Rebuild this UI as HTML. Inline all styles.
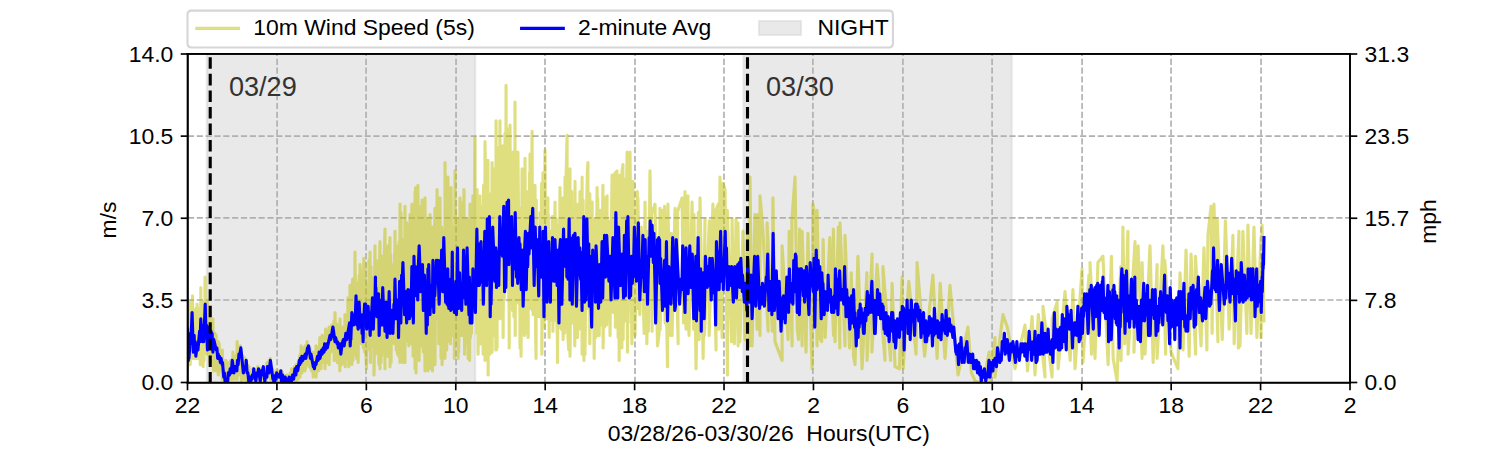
<!DOCTYPE html>
<html><head><meta charset="utf-8"><title>10m Wind Speed</title>
<style>html,body{margin:0;padding:0;background:#fff;font-family:"Liberation Sans",sans-serif;}
svg{display:block;position:absolute;left:0;top:0}
g[id^=text_]>g{stroke:#000;stroke-width:1.0;stroke-linejoin:round}
g[id^=text_]>g[style]{stroke:#333}
svg text{font-family:"Liberation Sans",sans-serif;}</style></head>
<body>
<svg width="1500" height="450" viewBox="0 0 720 216">
 <defs>
  <style type="text/css">*{stroke-linejoin: round; stroke-linecap: butt}</style>
 </defs>
 <g id="figure_1">
  <g id="patch_1">
   <path d="M 0 216 
L 720 216 
L 720 0 
L 0 0 
z
" style="fill: #ffffff"/>
  </g>
  <g id="axes_1">
   <g id="patch_2">
    <path d="M 90 183.6 
L 648 183.6 
L 648 25.9 
L 90 25.9 
z
" style="fill: #ffffff"/>
   </g>
   <g id="patch_3">
    <path d="M 99.3 183.6 
L 228.1 183.6 
L 228.1 25.9 
L 99.3 25.9 
z
" clip-path="url(#p9914ee8cab)" style="fill: #d3d3d3; opacity: 0.5"/>
   </g>
   <g id="patch_4">
    <path d="M 356.9 183.6 
L 485.6 183.6 
L 485.6 25.9 
L 356.9 25.9 
z
" clip-path="url(#p9914ee8cab)" style="fill: #d3d3d3; opacity: 0.5"/>
   </g>
   <g id="line2d_1">
    <path d="M 99.3 183.6 
L 99.3 25.9 
" clip-path="url(#p9914ee8cab)" style="fill: none; stroke: #d3d3d3; stroke-opacity: 0.5; stroke-linecap: square"/>
   </g>
   <g id="line2d_2">
    <path d="M 228.1 183.6 
L 228.1 25.9 
" clip-path="url(#p9914ee8cab)" style="fill: none; stroke: #d3d3d3; stroke-opacity: 0.5; stroke-linecap: square"/>
   </g>
   <g id="line2d_3">
    <path d="M 356.9 183.6 
L 356.9 25.9 
" clip-path="url(#p9914ee8cab)" style="fill: none; stroke: #d3d3d3; stroke-opacity: 0.5; stroke-linecap: square"/>
   </g>
   <g id="line2d_4">
    <path d="M 485.6 183.6 
L 485.6 25.9 
" clip-path="url(#p9914ee8cab)" style="fill: none; stroke: #d3d3d3; stroke-opacity: 0.5; stroke-linecap: square"/>
   </g>
   <g id="line2d_5">
    <path d="M 133 183.8 
L 133 25.9 
" clip-path="url(#p9914ee8cab)" style="fill: none; stroke-dasharray: 2.96,1.28; stroke-dashoffset: 0; stroke: #b0b0b0; stroke-width: 0.8"/>
   </g>
   <g id="line2d_6">
    <path d="M 175.7 183.8 
L 175.7 25.9 
" clip-path="url(#p9914ee8cab)" style="fill: none; stroke-dasharray: 2.96,1.28; stroke-dashoffset: 0; stroke: #b0b0b0; stroke-width: 0.8"/>
   </g>
   <g id="line2d_7">
    <path d="M 218.9 183.8 
L 218.9 25.9 
" clip-path="url(#p9914ee8cab)" style="fill: none; stroke-dasharray: 2.96,1.28; stroke-dashoffset: 0; stroke: #b0b0b0; stroke-width: 0.8"/>
   </g>
   <g id="line2d_8">
    <path d="M 261.6 183.8 
L 261.6 25.9 
" clip-path="url(#p9914ee8cab)" style="fill: none; stroke-dasharray: 2.96,1.28; stroke-dashoffset: 0; stroke: #b0b0b0; stroke-width: 0.8"/>
   </g>
   <g id="line2d_9">
    <path d="M 304.8 183.8 
L 304.8 25.9 
" clip-path="url(#p9914ee8cab)" style="fill: none; stroke-dasharray: 2.96,1.28; stroke-dashoffset: 0; stroke: #b0b0b0; stroke-width: 0.8"/>
   </g>
   <g id="line2d_10">
    <path d="M 347.5 183.8 
L 347.5 25.9 
" clip-path="url(#p9914ee8cab)" style="fill: none; stroke-dasharray: 2.96,1.28; stroke-dashoffset: 0; stroke: #b0b0b0; stroke-width: 0.8"/>
   </g>
   <g id="line2d_11">
    <path d="M 390.2 183.8 
L 390.2 25.9 
" clip-path="url(#p9914ee8cab)" style="fill: none; stroke-dasharray: 2.96,1.28; stroke-dashoffset: 0; stroke: #b0b0b0; stroke-width: 0.8"/>
   </g>
   <g id="line2d_12">
    <path d="M 433.4 183.8 
L 433.4 25.9 
" clip-path="url(#p9914ee8cab)" style="fill: none; stroke-dasharray: 2.96,1.28; stroke-dashoffset: 0; stroke: #b0b0b0; stroke-width: 0.8"/>
   </g>
   <g id="line2d_13">
    <path d="M 476.2 183.8 
L 476.2 25.9 
" clip-path="url(#p9914ee8cab)" style="fill: none; stroke-dasharray: 2.96,1.28; stroke-dashoffset: 0; stroke: #b0b0b0; stroke-width: 0.8"/>
   </g>
   <g id="line2d_14">
    <path d="M 519.4 183.8 
L 519.4 25.9 
" clip-path="url(#p9914ee8cab)" style="fill: none; stroke-dasharray: 2.96,1.28; stroke-dashoffset: 0; stroke: #b0b0b0; stroke-width: 0.8"/>
   </g>
   <g id="line2d_15">
    <path d="M 562.1 183.8 
L 562.1 25.9 
" clip-path="url(#p9914ee8cab)" style="fill: none; stroke-dasharray: 2.96,1.28; stroke-dashoffset: 0; stroke: #b0b0b0; stroke-width: 0.8"/>
   </g>
   <g id="line2d_16">
    <path d="M 605.3 183.8 
L 605.3 25.9 
" clip-path="url(#p9914ee8cab)" style="fill: none; stroke-dasharray: 2.96,1.28; stroke-dashoffset: 0; stroke: #b0b0b0; stroke-width: 0.8"/>
   </g>
   <g id="line2d_17">
    <path d="M 90.2 144 
L 648 144 
" clip-path="url(#p9914ee8cab)" style="fill: none; stroke-dasharray: 2.96,1.28; stroke-dashoffset: 0; stroke: #b0b0b0; stroke-width: 0.8"/>
   </g>
   <g id="line2d_18">
    <path d="M 90.2 104.6 
L 648 104.6 
" clip-path="url(#p9914ee8cab)" style="fill: none; stroke-dasharray: 2.96,1.28; stroke-dashoffset: 0; stroke: #b0b0b0; stroke-width: 0.8"/>
   </g>
   <g id="line2d_19">
    <path d="M 90.2 65.3 
L 648 65.3 
" clip-path="url(#p9914ee8cab)" style="fill: none; stroke-dasharray: 2.96,1.28; stroke-dashoffset: 0; stroke: #b0b0b0; stroke-width: 0.8"/>
   </g>
   <g id="matplotlib.axis_1">
    <g id="xtick_1">
     <g id="line2d_20">
      <defs>
       <path id="md058f797e7" d="M 0 0 
L 0 3.5 
" style="stroke: #000000; stroke-width: 0.8"/>
      </defs>
      <g>
       <use href="#md058f797e7" x="90" y="183.84" style="stroke: #000000; stroke-width: 0.8"/>
      </g>
     </g>
     <g id="text_1">
      <text x="90" y="198.4" font-size="11" text-anchor="middle" fill="#000000">22</text>
     </g>
    </g>
    <g id="xtick_2">
     <g id="line2d_21">
      <g>
       <use href="#md058f797e7" x="132.923077" y="183.84" style="stroke: #000000; stroke-width: 0.8"/>
      </g>
     </g>
     <g id="text_2">
      <text x="132.9" y="198.4" font-size="11" text-anchor="middle" fill="#000000">2</text>
     </g>
    </g>
    <g id="xtick_3">
     <g id="line2d_22">
      <g>
       <use href="#md058f797e7" x="175.846154" y="183.84" style="stroke: #000000; stroke-width: 0.8"/>
      </g>
     </g>
     <g id="text_3">
      <text x="175.8" y="198.4" font-size="11" text-anchor="middle" fill="#000000">6</text>
     </g>
    </g>
    <g id="xtick_4">
     <g id="line2d_23">
      <g>
       <use href="#md058f797e7" x="218.769231" y="183.84" style="stroke: #000000; stroke-width: 0.8"/>
      </g>
     </g>
     <g id="text_4">
      <text x="218.8" y="198.4" font-size="11" text-anchor="middle" fill="#000000">10</text>
     </g>
    </g>
    <g id="xtick_5">
     <g id="line2d_24">
      <g>
       <use href="#md058f797e7" x="261.692308" y="183.84" style="stroke: #000000; stroke-width: 0.8"/>
      </g>
     </g>
     <g id="text_5">
      <text x="261.7" y="198.4" font-size="11" text-anchor="middle" fill="#000000">14</text>
     </g>
    </g>
    <g id="xtick_6">
     <g id="line2d_25">
      <g>
       <use href="#md058f797e7" x="304.615385" y="183.84" style="stroke: #000000; stroke-width: 0.8"/>
      </g>
     </g>
     <g id="text_6">
      <text x="304.6" y="198.4" font-size="11" text-anchor="middle" fill="#000000">18</text>
     </g>
    </g>
    <g id="xtick_7">
     <g id="line2d_26">
      <g>
       <use href="#md058f797e7" x="347.538462" y="183.84" style="stroke: #000000; stroke-width: 0.8"/>
      </g>
     </g>
     <g id="text_7">
      <text x="347.5" y="198.4" font-size="11" text-anchor="middle" fill="#000000">22</text>
     </g>
    </g>
    <g id="xtick_8">
     <g id="line2d_27">
      <g>
       <use href="#md058f797e7" x="390.461538" y="183.84" style="stroke: #000000; stroke-width: 0.8"/>
      </g>
     </g>
     <g id="text_8">
      <text x="390.5" y="198.4" font-size="11" text-anchor="middle" fill="#000000">2</text>
     </g>
    </g>
    <g id="xtick_9">
     <g id="line2d_28">
      <g>
       <use href="#md058f797e7" x="433.384615" y="183.84" style="stroke: #000000; stroke-width: 0.8"/>
      </g>
     </g>
     <g id="text_9">
      <text x="433.4" y="198.4" font-size="11" text-anchor="middle" fill="#000000">6</text>
     </g>
    </g>
    <g id="xtick_10">
     <g id="line2d_29">
      <g>
       <use href="#md058f797e7" x="476.307692" y="183.84" style="stroke: #000000; stroke-width: 0.8"/>
      </g>
     </g>
     <g id="text_10">
      <text x="476.3" y="198.4" font-size="11" text-anchor="middle" fill="#000000">10</text>
     </g>
    </g>
    <g id="xtick_11">
     <g id="line2d_30">
      <g>
       <use href="#md058f797e7" x="519.230769" y="183.84" style="stroke: #000000; stroke-width: 0.8"/>
      </g>
     </g>
     <g id="text_11">
      <text x="519.2" y="198.4" font-size="11" text-anchor="middle" fill="#000000">14</text>
     </g>
    </g>
    <g id="xtick_12">
     <g id="line2d_31">
      <g>
       <use href="#md058f797e7" x="562.153846" y="183.84" style="stroke: #000000; stroke-width: 0.8"/>
      </g>
     </g>
     <g id="text_12">
      <text x="562.2" y="198.4" font-size="11" text-anchor="middle" fill="#000000">18</text>
     </g>
    </g>
    <g id="xtick_13">
     <g id="line2d_32">
      <g>
       <use href="#md058f797e7" x="605.076923" y="183.84" style="stroke: #000000; stroke-width: 0.8"/>
      </g>
     </g>
     <g id="text_13">
      <text x="605.1" y="198.4" font-size="11" text-anchor="middle" fill="#000000">22</text>
     </g>
    </g>
    <g id="xtick_14">
     <g id="line2d_33">
      <g>
       <use href="#md058f797e7" x="648" y="183.84" style="stroke: #000000; stroke-width: 0.8"/>
      </g>
     </g>
     <g id="text_14">
      <text x="648" y="198.4" font-size="11" text-anchor="middle" fill="#000000">2</text>
     </g>
    </g>
    <g id="text_15">
     <text x="369" y="211.6" font-size="11" text-anchor="middle" fill="#000000" xml:space="preserve">03/28/26-03/30/26  Hours(UTC)</text>
    </g>
   </g>
   <g id="matplotlib.axis_2">
    <g id="ytick_1">
     <g id="line2d_34">
      <defs>
       <path id="m3d2965ecab" d="M 0 0 
L -3.5 0 
" style="stroke: #000000; stroke-width: 0.8"/>
      </defs>
      <g>
       <use href="#m3d2965ecab" x="90.24" y="183.6" style="stroke: #000000; stroke-width: 0.8"/>
      </g>
     </g>
     <g id="text_16">
      <text x="83.2" y="187.4" font-size="11" text-anchor="end" fill="#000000">0.0</text>
     </g>
    </g>
    <g id="ytick_2">
     <g id="line2d_35">
      <g>
       <use href="#m3d2965ecab" x="90.24" y="144.18" style="stroke: #000000; stroke-width: 0.8"/>
      </g>
     </g>
     <g id="text_17">
      <text x="83.2" y="148" font-size="11" text-anchor="end" fill="#000000">3.5</text>
     </g>
    </g>
    <g id="ytick_3">
     <g id="line2d_36">
      <g>
       <use href="#m3d2965ecab" x="90.24" y="104.76" style="stroke: #000000; stroke-width: 0.8"/>
      </g>
     </g>
     <g id="text_18">
      <text x="83.2" y="108.6" font-size="11" text-anchor="end" fill="#000000">7.0</text>
     </g>
    </g>
    <g id="ytick_4">
     <g id="line2d_37">
      <g>
       <use href="#m3d2965ecab" x="90.24" y="65.34" style="stroke: #000000; stroke-width: 0.8"/>
      </g>
     </g>
     <g id="text_19">
      <text x="83.2" y="69.1" font-size="11" text-anchor="end" fill="#000000">10.5</text>
     </g>
    </g>
    <g id="ytick_5">
     <g id="line2d_38">
      <g>
       <use href="#m3d2965ecab" x="90.24" y="25.92" style="stroke: #000000; stroke-width: 0.8"/>
      </g>
     </g>
     <g id="text_20">
      <text x="83.2" y="29.7" font-size="11" text-anchor="end" fill="#000000">14.0</text>
     </g>
    </g>
    <g id="text_21">
     <text transform="translate(55.8 105.6) rotate(-90)" font-size="11" text-anchor="middle" fill="#000000">m/s</text>
    </g>
   </g>
   <g id="line2d_39">
    <path d="M 90 147 L 90 177 90.2 148 90.4 174 90.6 156 90.7 173 90.9 155 90.9 170 91 148 91.2 169 91.2 145 91.3 175 91.5 156 91.7 170 91.9 146 92 172 92.1 151 92.4 169 92.4 142 92.7 171 92.8 157 92.8 172 92.9 154 93.2 170 93.4 149 93.5 172 93.6 156 93.7 171 93.9 154 94 171 94.1 148 94.3 172 94.6 146 94.7 172 94.8 152 94.9 171 95.2 148 95.3 171 95.4 156 95.8 172 95.8 156 96.1 175 96.3 153 96.3 166 96.4 138 96.4 175 96.5 154 96.7 173 96.7 152 96.9 167 97 149 97.1 169 97.3 146 97.4 168 97.4 145 97.5 176 97.6 155 97.8 169 97.8 153 97.9 173 98.1 154 98.3 169 98.4 133 98.6 168 98.7 147 98.7 163 98.9 147 99 164 99.1 149 99.5 170 99.6 145 99.7 168 99.7 150 99.8 168 100.1 154 100.4 170 100.5 155 100.8 174 100.8 150 101.1 174 101.3 154 101.5 168 101.9 155 102.1 171 102.2 153 102.5 178 102.6 162 102.8 175 102.8 161 103.1 170 103.2 160 103.6 176 103.7 161 103.8 178 103.9 164 104.4 176 104.5 167 104.8 180 104.8 164 105.2 174 105.2 165 105.5 178 105.5 168 106 178 106.2 170 106.4 178 106.4 170 106.7 182 106.7 168 106.8 181 107 173 107.1 182 107.4 174 107.8 181 107.8 173 108.1 183 108.3 176 108.5 183 108.5 173 108.7 183 108.9 178 109 183 109.4 177 109.5 184 109.6 175 109.9 181 109.9 174 110.2 181 110.3 174 110.6 182 110.7 173 110.9 180 111 174 111.3 182 111.6 172 111.7 182 111.8 169 112.2 181 112.1 174 112.4 182 112.8 171 113 181 113.1 172 113.4 182 113.6 170 113.8 182 113.8 164 114.1 167 114.3 176 114.6 180 114.9 169 115.1 176 115.2 168 115.4 178 115.4 166 115.8 178 115.6 168 115.9 184 115.9 172 116.3 180 116.6 171 116.8 180 116.9 174 117 182 117.1 173 117.5 180 117.6 172 118.3 183 118.8 175 119.3 183 119.5 176 119.7 183 119.8 179 120.1 184 120.5 179 120.7 183 120.9 178 121.3 182 121.4 177 121.6 183 121.8 178 122.2 183 122.6 178 122.9 183 123.2 177 123.5 182 123.8 176 124.1 182 124.5 177 124.8 183 125.4 177 125.8 182 125.9 177 126.1 181 126.3 177 126.6 182 126.7 176 127.1 182 127.4 176 127.7 184 127.9 176 128 182 128.1 174 128.3 179 128.4 175 128.8 179 129.1 173 129.7 182 129.7 172 129.9 181 129.9 174 130.2 182 130.2 176 130.5 183 130.9 177 131.1 182 131.5 183 132.1 179 132.2 182 132.6 178 132.9 182 133 179 133.2 182 133.6 178 134 182 134.2 180 134.5 183 134.7 179 135.1 183 135.2 178 135.3 183 135.6 179 136.1 183 136.5 181 137.2 183 137.3 180 137.7 184 137.9 180 138.4 183 138.8 180 139 183 139.4 179 139.6 183 140 177 140.2 183 140.6 178 140.9 182 141.4 176 141.6 181 142 177 142.1 184 142.2 175 142.7 180 142.8 175 143.1 182 143.3 173 143.7 179 143.8 171 144 181 144.1 170 144.4 178 144.5 166 144.9 179 145.1 169 145.3 178 145.6 168 145.9 176 145.9 167 146.4 178 146.5 166 146.6 177 147.1 167 147.3 172 147.4 164 147.5 175 148 167 148.4 176 148.8 167 149.2 177 149.3 169 149.6 178 150.2 169 150.3 181 150.5 172 150.7 179 151 170 151.3 179 151.7 166 151.7 181 152.2 167 152.1 178 152.5 167 152.9 178 153 168 153.1 176 153.5 162 153.7 175 153.9 165 154.1 177 154.4 163 154.7 171 154.6 161 154.9 174 155 162 155.4 174 155.6 164 155.9 171 155.9 161 156 177 156.3 158 156.6 172 157 162 157.2 174 157.4 159 157.8 171 157.9 157 158 175 158.3 158 158.8 169 159.2 156 159.4 168 159.8 156 160.2 165 160.3 154 160.4 173 160.8 150 161.1 170 161.2 155 161.7 172 161.7 157 161.9 174 162.3 156 162.4 174 162.9 157 163.1 178 163.2 153 163.7 173 164.1 175 164.3 157 164.5 173 164.8 162 164.9 171 165.1 158 165.4 174 165.6 151 165.7 176 165.8 154 166.1 171 166.4 153 166.9 172 167 143 167.4 176 167.6 150 167.8 168 168 137 168.7 171 168.9 138 168.9 175 169 138 169.3 134 169.4 173 169.5 144 169.8 170 170 134 170.2 165 170.4 121 170.7 164 170.8 137 171.1 172 171.6 136 171.9 174 172.4 133 172.6 157 172.5 132 172.8 163 172.8 127 173.2 134 173.5 165 173.8 134 174 164 174.2 138 174.4 167 174.6 124 175 169 175.2 126 175.5 166 175.9 177 176.2 140 176.4 168 176.7 136 177 162 177.1 125 177.3 162 177.6 121 177.8 174 178.1 128 178.3 166 178.4 137 178.7 165 178.9 133 179.2 163 179.3 134 179.5 180 179.5 134 179.6 178 179.9 127 180 118 180.1 170 180.2 134 180.3 163 180.6 125 180.8 169 180.9 126 181.1 163 181.1 131 181.6 170 181.7 127 181.8 174 182 175 182.2 125 182.4 116 182.4 177 182.6 131 182.9 174 183 138 183.2 171 183.4 123 183.7 169 183.7 130 183.9 166 184.1 126 184.4 162 184.5 120 184.8 110 184.8 177 185 119 185.3 158 185.4 120 185.5 169 185.6 134 186 171 186.1 118 186.4 163 186.7 128 186.8 162 186.9 122 187.2 114 187.2 176 187.4 122 187.7 174 188 138 188.2 164 188.3 130 188.6 163 188.6 127 188.8 164 189 135 189.3 122 189.3 165 189.6 111 189.9 161 190.1 129 190.2 168 190.4 132 190.6 167 190.8 170 191 118 191.4 171 191.6 116 191.9 156 192 98 192 174 192.2 114 192.2 167 192.4 109 192.5 102 192.7 164 193.1 115 193.2 161 193.3 123 193.5 174 193.6 124 193.8 163 193.9 125 194.1 162 194.3 124 194.4 99 194.4 174 194.5 121 194.7 160 195 112 195.1 157 195.2 107 195.4 108 195.4 162 195.6 114 195.9 164 196.1 122 196.2 166 196.4 117 196.6 164 196.8 103 197.2 158 197.4 110 197.6 165 197.7 98 197.8 165 197.9 116 198.3 171 198.6 123 198.8 170 198.8 103 199.1 156 199.2 92 199.2 177 199.5 90 199.7 179 199.8 109 199.9 167 200 109 200.2 168 200.5 105 200.6 89 200.8 150 201 105 201.2 173 201.4 114 201.5 161 201.7 109 202 159 202 99 202.3 166 202.6 96 202.6 160 202.9 121 203.2 169 203.3 121 203.8 155 204 178 204 95 204.5 169 204.4 112 204.6 166 204.7 117 205 166 205.1 105 205.2 169 205.4 178 205.5 121 206 128 206.2 177 206.4 103 206.8 169 206.9 115 207.1 159 207.4 171 207.6 178 207.8 109 208.4 159 208.5 115 208.8 100 208.8 175 209.2 110 209.4 153 209.8 91 209.9 151 210.5 103 210.6 165 210.8 124 211.1 161 211.2 95 211.7 172 212 109 212.2 175 212.4 111 212.5 162 212.6 113 212.7 172 213.2 114 213.6 172 213.6 78 213.9 159 214.2 94 214.4 168 214.7 94 214.9 154 215 85 215.4 158 215.4 106 215.9 164 216.2 117 216.2 165 216.5 90 217 157 217.1 120 217.4 161 217.9 109 218.1 172 218 110 218.3 154 218.4 82 218.5 158 218.6 102 219 162 219.3 118 219.3 164 219.6 105 219.9 172 220.1 127 220.2 169 220.6 119 220.8 158 220.8 95 221.6 161 221.7 107 221.9 161 222 109 222.4 97 222.5 147 222.7 91 223 170 223 108 223.4 165 223.5 105 223.9 149 224.3 111 224.7 172 225 105 225.4 173 225.6 98 225.8 162 225.9 109 226.3 160 226.7 118 227 149 227 94 227.6 140 227.7 114 228 66 228 149 228.5 106 228.7 97 228.9 154 229 91 229 160 229.2 115 229.5 170 229.8 108 230.1 148 230.4 94 230.5 165 230.7 106 230.9 152 231.1 101 231.3 165 231.6 99 231.9 170 232 104 232.1 165 232.1 89 232.3 141 232.4 90 232.7 149 232.8 68 232.8 173 232.9 73 233.1 143 233.4 96 233.5 157 233.7 98 234 155 234 80 234.2 153 234.2 77 234.3 180 234.5 98 234.8 146 234.9 93 235.1 164 235.1 107 235.2 170 235.7 111 235.8 154 236.2 78 236.2 169 236.6 98 236.7 159 236.7 92 237 161 237.1 81 237.5 154 237.6 87 238 168 238.1 58 238.3 168 238.4 88 238.6 167 238.7 71 238.8 143 239.1 79 239.3 148 239.5 99 239.8 147 239.8 88 240 58 240 153 240.3 88 240.3 145 240.5 78 240.6 148 240.8 86 241.2 131 241.4 70 241.5 162 241.8 86 242 144 242.1 78 242.2 134 242.4 64 242.5 133 242.6 82 242.8 132 242.9 41 243 136 243.2 62 243.5 135 243.8 62 244.2 145 244.3 76 244.4 167 244.5 90 244.7 140 244.8 60 245.3 146 245.4 78 245.7 146 245.9 94 246 149 246.3 73 246.3 147 246.6 81 246.7 152 246.8 81 247.1 140 247.2 49 247.3 161 247.5 86 247.5 146 247.7 78 247.8 145 247.9 93 248.3 145 248.6 73 249.3 146 249.4 102 249.6 167 249.9 100 250.1 171 250.6 81 251.2 149 251.3 93 251.7 161 252 76 252.2 160 252.3 101 252.5 150 252.7 96 252.9 143 253 92 253.5 162 253.7 92 253.9 138 254.2 83 254.3 148 254.4 74 254.7 131 254.9 90 255 136 255.4 63 255.6 149 255.8 98 255.9 151 256.4 102 256.6 143 256.8 89 257.1 160 257.3 172 257.4 96 257.6 146 257.8 109 258.1 150 258.7 152 259 109 259.2 142 259.2 102 259.7 151 259.9 95 260 88 260.1 170 260.6 83 260.9 149 261.1 157 261.6 72 262 151 262 100 262.6 153 263 95 263 150 263.2 103 263.6 162 263.9 114 264 154 264.3 111 265 145 265.1 104 265.4 159 265.8 106 265.9 142 266.4 97 266.8 154 267 105 267.4 160 267.3 109 267.6 174 268 108 268.3 157 268.8 90 269.4 158 269.8 109 270.3 163 270.3 95 270.9 160 271.2 85 271.5 150 271.6 91 271.8 82 272.2 65 272.2 153 272.3 101 272.3 156 273 168 273.1 97 273.6 81 273.6 171 274.4 92 275 155 275.3 108 275.9 166 276 87 276.1 156 276.5 162 277.2 109 277.2 162 277.4 98 277.9 158 278.4 92 278.6 150 278.8 99 279.2 158 279.4 85 279.4 170 279.9 96 280.3 173 280.3 104 280.8 170 281.6 99 281.9 83 282.2 78 282.3 148 283.1 93 283.1 165 284.2 97 284.6 150 284.7 106 285.2 172 285.8 105 285.9 162 286.6 90 286.6 161 286.9 95 287.6 161 288.2 101 288.6 156 289.4 89 289.5 167 289.9 98 290.2 157 290.4 95 290.9 153 291.4 94 291.2 156 292.8 106 292.8 161 293.8 84 294.4 150 295.2 83 295.4 157 296.1 82 296.7 162 296.9 92 297.2 173 297.6 84 297.6 154 298.5 167 298.6 82 299 79 299.1 163 299.8 86 299.9 154 301 73 301.2 169 301.3 82 301.5 155 302.4 73 303.3 165 303.8 87 304.8 161 305.9 92 305.9 148 306.2 95 307.1 151 307.8 109 309.2 160 309.6 97 310.5 165 311.1 111 311.2 159 312 82 313 159 312.7 103 314.4 98 315.6 166 316.4 160 316.8 100 316.9 158 318 101 319.3 155 319 99 320.4 176 320.6 98 321.8 161 322.2 112 322.6 161 324 100 325.5 165 325.1 102 327.4 95 328.1 155 328.8 92 329.3 158 330.2 94 330.7 161 332.2 97 332.9 158 333.1 103 334.1 177 335.2 102 335.6 163 336 95 337.5 172 338.4 105 338.1 161 340.5 106 340.4 161 342.2 98 343.7 168 343.6 101 344.8 98 345 158 345.6 85 346.6 162 347.1 88 348 91 349.2 180 349.1 101 351.1 164 351.4 105 352.5 165 353.3 105 354.3 166 354.2 107 355.2 164 356.6 111 357.6 163 358.9 108 359.6 166 360 85 361 166 362.4 103 363.4 158 363.5 103 364.8 161 364.8 94 366.1 109 368.7 159 368.2 107 370.7 159 371 95 372 164 375.4 173 375.4 118 378.3 163 378.8 111 380.2 166 380.1 106 381.6 85 382.7 158 383.3 163 383.8 110 385 166 385 111 386.9 169 387.8 112 389.8 177 390.2 98 390.7 101 392.2 166 392.2 101 393.4 162 394.4 164 395.1 115 396.1 162 398.3 114 400.1 161 400 110 400.8 164 402.4 109 403.1 167 403.2 107 405.6 166 405.6 113 407.8 167 408.6 131 409.7 171 410.4 175 411.8 123 413.8 177 416.1 131 416.2 173 418.6 122 418.5 169 421 127 424.8 173 423.8 128 427.5 173 428.2 136 429.6 176 431.7 177 433 133 433.5 177 436.2 135 439.7 170 440.2 126 443.8 171 447.8 132 449.8 172 451.3 136 453.6 172 456 137 459.4 175 459.9 180 464.6 157 466.3 179 468.1 183 471.9 184 474.8 169 475.2 184 477.6 162 477.6 181 481.4 151 483.5 157 487.2 177 492 156 493.2 178 495.4 152 496.8 180 498.4 151 501.6 181 500.6 147 505 181 505 153 507.4 145 507.9 177 511.2 140 513.7 173 515 139 516 177 519.4 129 519.8 174 522.7 132 523.9 170 523.2 126 525.6 172 527 126 529.4 123 531.9 175 533.5 123 534.3 172 536.2 183 537.9 128 538.1 173 539 109 539.9 165 541.4 111 541.5 170 544.8 116 544.3 169 546.3 118 548.2 172 548.2 126 549.6 170 552 118 553.5 174 555.4 127 555.4 172 558.2 118 559.5 170 559.1 125 562.1 169 565.4 177 566.4 131 567.9 168 569.3 120 570.8 171 571.7 122 573.9 170 573.8 123 576.5 166 577.9 119 579.3 168 579.8 113 581.3 99 581.8 160 582.7 98 584.6 164 584.2 105 586.7 163 588.2 106 590 158 591.8 113 592.4 165 594.7 111 594.4 167 595.2 166 596.6 111 598.5 160 599 108 600.5 160 601.9 109 603.3 162 605.3 114 605.3 162 605.8 108 606.7 154
" clip-path="url(#p9914ee8cab)" style="fill: none; stroke: #bfbf00; stroke-opacity: 0.5; stroke-width: 1.5; stroke-linecap: square"/>
   </g>
   <g id="line2d_40">
    <path d="M 90 158 L 90.4 173 90.5 168 90.7 172 91.5 160 91.6 165 92.2 150 92.8 169 93.2 161 93.4 168 93.7 164 94 171 94.7 165 95 168 95.8 159 96 164 96.4 153 96.7 161 96.8 156 97.2 164 97.4 158 97.8 164 98.5 146 98.8 159 99.1 156 99.6 168 100 157 100.8 163 101.3 159 101.7 163 101.8 160 102.2 169 102.6 163 103.8 168 104.1 167 104.5 172 104.7 170 105.1 172 105.3 171 105.8 174 106.1 172 106.6 175 106.8 174 107.4 181 107.7 179 108.1 184 108.8 183 109.2 184 109.6 179 110.1 180 110.5 177 111 179 111.5 173 112.3 179 112.6 176 112.8 177 113.1 176 113.7 178 114 173 114.3 175 114.7 170 115 171 115.6 167 116.8 179 117.2 177 117.6 176 117.9 177 118.2 173 118.6 179 119 179 119.5 184 119.9 184 120 181 120.4 183 120.6 181 121 182 121.1 180 121.5 181 121.8 177 122.1 181 122.4 180 122.8 183 123.3 179 123.7 180 124.1 177 124.9 183 125.4 178 125.7 180 126.4 176 127.1 183 127.5 180 128.1 181 128.4 176 129.1 179 129.8 173 131 182 131.2 181 131.5 184 131.7 184 132.3 180 132.5 182 132.8 179 133.9 181 134.3 181 134.8 178 135.2 184 135.6 180 136.6 183 136.9 181 137.4 182 137.6 184 137.9 184 138.4 183 138.8 181 139.2 183 139.9 183 140.4 180 140.9 182 141.6 177 142 180 142.4 176 142.9 178 143.7 173 143.9 175 144.2 172 144.5 174 144.9 171 145.3 173 146.5 170 146.8 172 147.6 167 147.7 169 148.1 166 149 172 149.3 170 150.4 176 150.6 175 150.9 177 151.4 174 151.7 175 152.4 171 152.7 173 153.2 169 153.6 172 154.4 168 154.6 170 155.2 167 155.5 169 155.8 165 156.1 168 156.9 165 157.1 167 158.4 161 158.8 163 159.8 157 160.8 164 161.1 162 161.8 165 162 164 162.4 167 163.1 165 163.6 170 164.2 165 164.8 163 165.2 166 166 160 166.4 163 167.8 155 168.1 166 168.3 161 168.4 163 168.9 150 169.1 154 169.3 151 169.8 156 169.9 152 170.2 155 170.4 152 170.5 154 170.9 142 171.3 156 171.5 153 171.9 158 172.4 145 172.9 157 173.3 151 173.4 157 173.6 153 173.8 160 174 153 174.3 164 174.5 151 174.6 154 175 146 175.2 151 175.5 146 176 158 176.7 147 177 154 177.1 150 177.7 161 178 151 178.1 155 178.8 143 179.2 158 179.6 144 179.9 151 180.2 133 180.3 144 180.4 138 180.9 152 181.1 144 181.3 149 181.7 141 182 161 182.4 149 182.6 155 183 144 183.3 156 183.7 138 184.4 156 184.6 154 184.8 159 185.3 145 185.8 162 186.2 149 186.4 156 186.8 140 187.3 160 187.8 149 188.1 157 188.4 152 188.6 160 189.1 146 189.3 150 189.6 134 190 153 190.1 144 190.5 153 190.7 144 190.8 153 191.1 144 191.3 162 191.8 135 192 147 192.1 142 192.4 155 192.8 132 192.9 140 193.4 126 194.2 151 194.6 140 195.2 155 195.5 141 195.7 146 195.8 139 195.9 147 196.2 140 196.5 153 196.6 147 196.8 152 197.1 139 197.3 150 197.7 128 197.8 137 197.9 130 198.4 155 198.7 123 199.1 142 199.4 128 199.5 134 199.7 129 200 138 200.2 132 200.5 144 200.8 128 201.2 118 201.8 136 201.9 140 202.2 130 202.6 139 202.8 127 203.2 149 203.4 141 203.5 148 203.7 132 204.4 149 204.6 160 204.8 144 205.1 156 205.4 129 205.6 136 205.8 127 206.4 151 206.9 137 207.5 147 207.8 125 208.2 150 208.4 136 208.7 142 209.5 125 210 135 210.1 125 210.8 146 211.4 125 211.7 134 212 120 212.5 140 212.6 129 212.7 137 213 114 213.9 145 214.1 133 214.6 146 214.9 129 215.2 147 215.3 142 215.4 148 215.6 134 215.9 146 216.2 135 216.4 149 216.7 148 217.1 121 217.3 143 217.6 137 218.1 150 218.4 137 218.6 143 218.8 135 219.1 151 219.6 119 219.9 143 220 136 220.2 148 220.6 131 221.1 146 221.2 139 221.6 149 221.9 136 222.2 141 222.5 120 223.1 143 223.3 130 223.6 146 224.2 119 225.1 151 225.3 133 225.7 155 226.1 138 226.5 155 227 129 227.7 145 227.9 137 228.2 150 228.9 110 229.4 137 229.7 117 230.1 137 230.3 130 230.3 136 230.9 116 231.3 133 231.4 127 231.5 135 231.6 121 232 146 232.7 111 233.1 129 233.1 119 233.6 137 233.9 105 234.3 134 234.4 113 234.6 121 234.9 104 235.3 152 235.6 131 235.7 146 236.5 109 237.5 135 238 119 238.3 138 238.8 121 239.2 131 239.2 124 239.4 137 239.9 104 240.3 122 240.5 116 240.6 121 241 110 241.2 123 241.8 99 242.2 140 242.5 122 242.8 138 243.4 97 243.7 123 244.1 96 244.3 127 244.7 107 244.8 117 245 107 245.3 117 245.6 104 246 137 246.4 113 246.9 129 247.3 102 247.9 133 248.1 115 248.5 136 249.1 114 249.5 125 249.6 117 250.2 139 250.7 120 251.1 147 251.9 118 252.2 111 252.6 139 253 117 253.3 128 253.6 112 253.9 122 254.8 104 255 119 255.7 100 256.4 137 256.9 109 257.4 128 257.8 115 258.6 142 259.1 109 259.2 126 259.3 117 260 133 260.2 117 260.6 125 260.7 111 261.1 152 261.3 134 261.5 143 261.8 109 262.6 145 262.9 121 263.1 136 263.4 116 264.2 145 264.4 125 264.8 135 265.2 114 265.6 132 265.7 120 266 135 266.4 115 267.1 135 267.3 130 267.4 137 267.9 120 268.3 155 268.7 119 269 115 269.7 146 270.5 110 270.8 124 270.9 115 271.5 128 271.9 115 272.1 133 272.5 125 272.7 134 273.2 105 273.6 144 273.7 114 274.1 136 274.3 118 274.7 146 275.2 113 275.5 124 276 112 276.7 147 277.5 114 278 132 278.3 119 278.7 134 278.8 121 279.4 149 279.5 133 279.9 142 280.2 104 280.6 145 280.9 131 281.3 144 281.7 105 282.2 129 282.6 117 282.9 147 283.2 123 284 157 284.5 120 285.2 140 285.5 127 285.8 145 286.1 118 287.3 148 287.7 127 288.4 145 289 116 289.3 143 289.6 127 290.2 113 290.7 133 291.2 113 292.3 135 292.8 123 293.3 144 294.2 114 295.2 143 295.6 102 296.5 143 296.9 109 297.8 137 298 123 298.3 134 298.5 122 298.8 135 298.9 126 299.3 143 299.7 113 300.2 142 300.8 106 301.1 121 301.4 104 302.1 143 302.5 129 302.7 142 303.1 123 303.5 136 303.8 125 304 133 304.5 109 304.9 126 305 118 305.5 135 306.4 107 307.1 144 307.9 125 308 133 308.6 113 309.3 140 309.7 115 310 138 310.1 127 310.3 137 310.4 123 310.8 146 311.6 114 311.8 123 312.1 106 312.7 123 313 108 313.6 126 313.9 112 314.7 155 315.6 115 315.8 130 316.2 114 316.3 131 316.6 115 316.8 136 317.1 124 318 149 319 125 319.4 147 319.9 116 320.4 154 321 128 322.1 146 322.9 114 323.9 149 324.2 147 324.6 115 326.2 146 326.9 134 327.3 139 327.7 118 328.8 150 329.3 119 329.7 140 329.9 124 330.3 141 331.1 118 331.7 138 332.3 122 333 153 334 123 334.3 154 335.1 114 335.5 144 335.7 130 336 149 336.3 129 336.6 159 336.9 134 337.1 143 337.4 131 338 153 338.6 123 339.5 138 339.8 128 340.4 137 340.7 124 341.4 144 341.9 124 343 141 343.1 132 343.5 156 343.9 116 344.6 139 344.8 121 345.2 139 345.9 111 346.4 135 347 128 347.2 139 348.1 111 348.5 132 348.7 119 349.1 139 349.2 129 349.6 139 349.9 128 350.5 137 351.2 128 352 145 352.7 128 353.5 143 354.1 127 354.4 136 354.9 126 355.2 138 355.6 124 356.3 140 356.4 132 357.3 145 357.9 136 358.5 149 358.9 124 359.8 145 360.5 132 361 153 362.2 123 362.8 147 363.7 123 364.6 148 365.1 138 365.4 146 366 136 366.4 146 366.7 139 366.9 147 367.8 133 368 139 368.5 122 369.1 149 369.5 135 370.3 149 370.4 143 370.5 151 371.1 112 371.7 149 372.1 134 372.5 143 372.6 130 373.5 153 374 135 374.9 159 375.5 143 375.7 153 376.1 142 376.9 155 377.7 133 378.5 150 378.9 129 379.3 144 379.7 136 380 145 380.2 141 380.6 146 381 125 381.4 140 381.8 122 382.1 123 382.7 150 383 129 383.7 151 384.1 129 384.4 138 384.7 129 385.6 142 385.9 130 386.2 145 387.1 128 388.3 151 388.9 126 389.6 137 389.7 133 390.4 140 390.7 124 391.1 157 391.8 120 392.2 139 392.7 125 393.3 138 393.5 128 394.2 153 394.5 131 394.9 140 395 136 395.6 151 396 140 396.4 147 397.2 149 397.5 132 397.9 145 398.6 139 399.2 150 399.6 143 399.9 150 400 143 400.2 150 400.5 142 400.7 148 401 129 401.3 139 401.4 134 402.2 151 402.7 135 403 130 403.6 144 404.4 139 405 146 405.4 128 406.1 152 406.4 139 407 152 407.3 143 407.9 158 408.8 142 409.3 155 409.7 139 410.2 157 410.4 150 411 166 411.4 153 411.9 162 412.2 149 412.4 157 412.9 146 413 155 413.4 148 413.5 154 413.8 150 414.5 160 414.6 155 414.8 160 415.3 148 415.6 154 416.3 140 416.6 151 417.1 142 417.7 150 418.5 135 418.9 150 419.3 144 419.8 160 420.1 160 420.7 144 420.9 151 421.2 139 421.9 151 422.3 141 422.7 153 422.9 146 423.1 153 423.4 146 423.8 152 423.9 147 424.3 158 424.7 154 424.9 160 425.3 150 426 161 426.3 152 426.8 164 427.2 153 427.6 159 428 150 428.3 156 428.5 150 429.1 164 429.5 154 429.9 167 430.8 153 431.1 161 431.4 157 431.7 162 432.2 150 432.8 158 433.1 147 433.7 148 434 168 434.4 149 435.1 155 435.4 144 435.9 160 436.6 149 436.9 163 437.4 144 438 154 438.4 149 439 161 439.5 146 439.9 151 440.2 146 440.5 152 440.6 147 441 154 441.2 149 441.5 153 441.6 149 442.1 162 442.4 151 442.9 157 443.3 150 443.6 160 443.8 157 444.1 164 444.5 154 444.8 164 445.2 155 445.6 161 445.7 156 446 160 446.1 152 446.8 157 447.1 153 447.6 166 447.8 157 448.2 161 448.5 148 449 160 449.2 155 449.5 158 450 154 450.4 162 450.6 155 451 162 451.4 155 451.7 163 452.2 151 452.7 158 453 154 453.4 159 453.5 156 453.7 160 454.1 149 454.7 161 455.1 154 455.4 158 455.7 153 456.1 159 456.5 156 456.6 159 456.7 157 457.4 162 457.8 157 458.8 169 458.9 167 459.1 170 459.6 166 460.1 175 460.5 165 460.9 171 461.3 162 461.8 174 462.1 169 462.3 173 462.5 170 462.8 174 463.2 167 463.4 169 464.1 164 464.8 174 465 171 465.2 173 465.5 170 465.9 174 466 171 466.6 174 466.9 170 467.3 177 467.7 173 468.1 177 468.8 173 469.2 179 469.8 174 470.3 180 470.4 176 470.5 178 470.6 176 471 183 471.4 179 471.6 180 471.8 178 472.1 181 472.5 177 473.2 183 473.4 180 474.1 181 474.7 173 475.2 181 475.6 174 476 178 476.2 174 476.6 178 476.9 173 477.3 175 477.6 172 478.3 176 478.8 167 479.9 174 480.3 171 480.6 173 481.1 164 481.5 168 482.1 160 482.5 170 482.8 166 483.2 169 483.5 163 484.5 173 485.2 165 485.4 169 486.2 164 487.4 174 488.1 164 488.6 171 489 168 489.3 173 490.1 165 490.4 169 490.8 165 491.3 168 491.6 165 491.9 171 492.3 165 493 173 493.3 166 493.5 168 494 159 494.5 167 494.7 164 495.2 173 495.5 167 495.9 170 496 164 496.4 168 496.8 159 497.3 174 497.8 173 498.5 161 498.9 170 499.1 165 499.4 170 500.1 155 500.8 170 500.9 162 501.3 169 501.6 160 502 169 502.3 162 502.6 169 503.1 158 503.5 167 503.7 164 504.2 170 504.3 166 504.7 170 505 163 505.4 174 506.1 150 506.5 167 507 158 507.2 165 507.5 159 508.1 168 508.5 158 508.8 168 509.1 157 509.6 167 509.9 151 510.3 164 510.9 153 511.2 164 511.3 159 511.8 168 512.1 147 512.7 156 512.8 151 513.3 158 513.4 153 513.8 158 514.1 149 514.8 167 515.1 156 515.4 161 515.8 155 516.1 159 516.2 155 516.8 161 517.4 147 518 164 518.4 157 518.5 163 518.9 153 519.2 148 519.6 160 520 147 520.1 152 520.6 141 521.4 149 521.6 141 522.3 160 523.1 139 523.2 145 523.3 141 523.4 146 523.8 137 524.8 158 525 140 525.1 142 525.3 139 525.4 144 525.6 138 526 152 526.4 137 526.5 142 526.9 136 527.6 161 528.3 137 528.8 149 529.1 135 529.3 139 529.4 133 529.9 150 530 144 530.7 153 531.1 143 531.3 150 531.8 137 532.1 164 532.5 140 533.4 163 534.2 139 534.4 146 534.7 137 535 149 535.1 140 535.3 153 535.6 146 535.8 155 536 142 536.2 156 536.6 144 537.2 167 537.5 147 537.7 157 538.2 134 538.5 129 539 143 539.1 132 539.5 150 539.6 141 540 160 540.7 130 541.3 154 541.7 142 542.2 157 543.1 134 543.8 153 544.1 142 544.4 157 544.7 133 544.9 155 545.4 144 546.3 163 546.7 147 547.4 164 547.9 144 548.2 154 549 136 549.4 154 550.1 141 550.4 151 550.8 137 551.3 161 551.6 144 552.1 161 552.5 144 552.8 151 553.2 139 554 153 554.5 139 554.9 161 555.3 147 555.7 159 556 152 556.3 155 556.6 143 556.7 151 557.1 140 557.4 151 557.7 146 558.1 156 559 132 559.3 149 559.4 144 559.9 150 560.3 142 560.6 154 560.9 147 561.4 165 561.7 138 562.3 157 562.6 144 563.4 155 563.6 147 563.9 163 564.2 144 564.6 154 564.8 143 565.1 156 565.9 140 566.4 167 566.8 140 567 151 567.4 141 567.6 153 568.3 136 568.7 157 568.8 151 569.3 159 569.6 152 570.1 159 570.7 141 571.3 153 571.7 138 571.9 148 572.7 137 573.2 157 573.5 143 573.9 156 574.3 139 574.7 144 575.2 133 575.7 150 576.3 143 577.2 154 578.4 138 578.8 153 579.6 135 580.6 147 580.8 140 581.2 146 582 130 582.2 138 582.5 119 583 138 583.1 134 583.3 139 583.6 131 583.8 140 584.4 125 585.3 149 586.2 127 587.7 146 587.9 137 588.4 143 588.8 123 589.3 137 589.5 131 590.4 145 591.2 124 591.9 141 592.3 134 593 154 593.4 130 593.7 141 594 132 594.3 140 594.6 131 594.9 145 595.2 138 595.5 144 595.8 126 596.7 145 597.3 132 597.8 144 598.5 137 598.7 143 599.1 129 600 142 600.3 129 600.7 144 601.4 129 601.9 144 602.2 138 602.4 152 603.2 129 603.5 147 603.7 138 604.1 145 604.2 137 604.6 143 605.1 135 605.4 150 605.8 133 605.9 140 606.3 122 606.3 129 606.4 124 606.5 127 606.7 114
" clip-path="url(#p9914ee8cab)" style="fill: none; stroke: #0000ff; stroke-width: 1.5; stroke-linecap: square"/>
   </g>
   <g id="line2d_41">
    <path d="M 100.9 183.6 
L 100.9 25.9 
" clip-path="url(#p9914ee8cab)" style="fill: none; stroke-dasharray: 5.55,2.4; stroke-dashoffset: 0.48; stroke: #000000; stroke-width: 1.5"/>
   </g>
   <g id="line2d_42">
    <path d="M 358.8 183.6 
L 358.8 25.9 
" clip-path="url(#p9914ee8cab)" style="fill: none; stroke-dasharray: 5.55,2.4; stroke-dashoffset: 0.48; stroke: #000000; stroke-width: 1.5"/>
   </g>
   <g id="patch_5">
    <path d="M 90.2 183.6 
L 90.2 25.9 
" style="fill: none; stroke: #000000; stroke-width: 0.8; stroke-linejoin: miter; stroke-linecap: square"/>
   </g>
   <g id="patch_6">
    <path d="M 648 183.6 
L 648 25.9 
" style="fill: none; stroke: #000000; stroke-width: 0.8; stroke-linejoin: miter; stroke-linecap: square"/>
   </g>
   <g id="patch_7">
    <path d="M 90 183.8 
L 648 183.8 
" style="fill: none; stroke: #000000; stroke-width: 0.8; stroke-linejoin: miter; stroke-linecap: square"/>
   </g>
   <g id="patch_8">
    <path d="M 90 25.9 
L 648 25.9 
" style="fill: none; stroke: #000000; stroke-width: 0.8; stroke-linejoin: miter; stroke-linecap: square"/>
   </g>
   <g id="text_22">
    <text x="109.9" y="46.1" font-size="13" fill="#333333">03/29</text>
   </g>
   <g id="text_23">
    <text x="367.7" y="46.1" font-size="13" fill="#333333">03/30</text>
   </g>
   <g id="legend_1">
    <g id="patch_9">
     <path d="M 92 22.8 
L 426.6 22.8 
Q 428.6 22.8 428.6 20.8 
L 428.6 7.1 
Q 428.6 5.1 426.6 5.1 
L 92 5.1 
Q 90 5.1 90 7.1 
L 90 20.8 
Q 90 22.8 92 22.8 
z
" style="fill: #ffffff; opacity: 0.8; stroke: #cccccc; stroke-linejoin: miter"/>
    </g>
    <g id="line2d_43" transform="translate(0.48 0.45)">
     <path d="M 94 13.2 
L 104 13.2 
L 114 13.2 
" style="fill: none; stroke: #bfbf00; stroke-opacity: 0.5; stroke-width: 1.5; stroke-linecap: square"/>
    </g>
    <g id="text_24" transform="translate(-0.43 0)">
     <text x="122" y="16.7" font-size="11" fill="#000000">10m Wind Speed (5s)</text>
    </g>
    <g id="line2d_44" transform="translate(0.48 0.45)">
     <path d="M 249.9 13.2 
L 259.9 13.2 
L 269.9 13.2 
" style="fill: none; stroke: #0000ff; stroke-width: 1.5; stroke-linecap: square"/>
    </g>
    <g id="text_25" transform="translate(-0.43 0)">
     <text x="277.9" y="16.7" font-size="11" fill="#000000">2-minute Avg</text>
    </g>
    <g id="patch_10" transform="scale(0.48)"><rect x="758" y="20" width="44" height="16" fill="#e9e9e9"/><rect x="759.5" y="21.5" width="41" height="13" fill="none" stroke="#dfdfdf" stroke-width="1"/></g>
    <g id="text_26" transform="translate(-0.43 0)">
     <text x="392.8" y="16.7" font-size="11" fill="#000000">NIGHT</text>
    </g>
   </g>
  </g>
  <g id="axes_2">
   <g id="matplotlib.axis_3">
    <g id="ytick_6">
     <g id="line2d_45">
      <defs>
       <path id="mbede1905fa" d="M 0 0 
L 3.5 0 
" style="stroke: #000000; stroke-width: 0.8"/>
      </defs>
      <g>
       <use href="#mbede1905fa" x="648" y="183.6" style="stroke: #000000; stroke-width: 0.8"/>
      </g>
     </g>
     <g id="text_27">
      <text x="655" y="187.4" font-size="11" fill="#000000">0.0</text>
     </g>
    </g>
    <g id="ytick_7">
     <g id="line2d_46">
      <g>
       <use href="#mbede1905fa" x="648" y="144.18" style="stroke: #000000; stroke-width: 0.8"/>
      </g>
     </g>
     <g id="text_28">
      <text x="655" y="148" font-size="11" fill="#000000">7.8</text>
     </g>
    </g>
    <g id="ytick_8">
     <g id="line2d_47">
      <g>
       <use href="#mbede1905fa" x="648" y="104.76" style="stroke: #000000; stroke-width: 0.8"/>
      </g>
     </g>
     <g id="text_29">
      <text x="655" y="108.6" font-size="11" fill="#000000">15.7</text>
     </g>
    </g>
    <g id="ytick_9">
     <g id="line2d_48">
      <g>
       <use href="#mbede1905fa" x="648" y="65.34" style="stroke: #000000; stroke-width: 0.8"/>
      </g>
     </g>
     <g id="text_30">
      <text x="655" y="69.1" font-size="11" fill="#000000">23.5</text>
     </g>
    </g>
    <g id="ytick_10">
     <g id="line2d_49">
      <g>
       <use href="#mbede1905fa" x="648" y="25.92" style="stroke: #000000; stroke-width: 0.8"/>
      </g>
     </g>
     <g id="text_31">
      <text x="655" y="29.7" font-size="11" fill="#000000">31.3</text>
     </g>
    </g>
    <g id="text_32">
     <text transform="translate(689.1 106.3) rotate(-90)" font-size="11" text-anchor="middle" fill="#000000">mph</text>
    </g>
   </g>
   <g id="patch_11">
    <path d="M 90 183.6 
L 90 25.9 
" style="fill: none; stroke: #000000; stroke-width: 0.8; stroke-linejoin: miter; stroke-linecap: square"/>
   </g>
   <g id="patch_12">
    <path d="M 648 183.6 
L 648 25.9 
" style="fill: none; stroke: #000000; stroke-width: 0.8; stroke-linejoin: miter; stroke-linecap: square"/>
   </g>
   <g id="patch_13">
    <path d="M 90 183.6 
L 648 183.6 
" style="fill: none; stroke: #000000; stroke-width: 0.8; stroke-linejoin: miter; stroke-linecap: square"/>
   </g>
   <g id="patch_14">
    <path d="M 90 25.9 
L 648 25.9 
" style="fill: none; stroke: #000000; stroke-width: 0.8; stroke-linejoin: miter; stroke-linecap: square"/>
   </g>
  </g>
 </g>
 <defs>
  <clipPath id="p9914ee8cab">
   <rect x="90" y="25.92" width="558" height="157.68"/>
  </clipPath>
 </defs>
</svg>

</body></html>
